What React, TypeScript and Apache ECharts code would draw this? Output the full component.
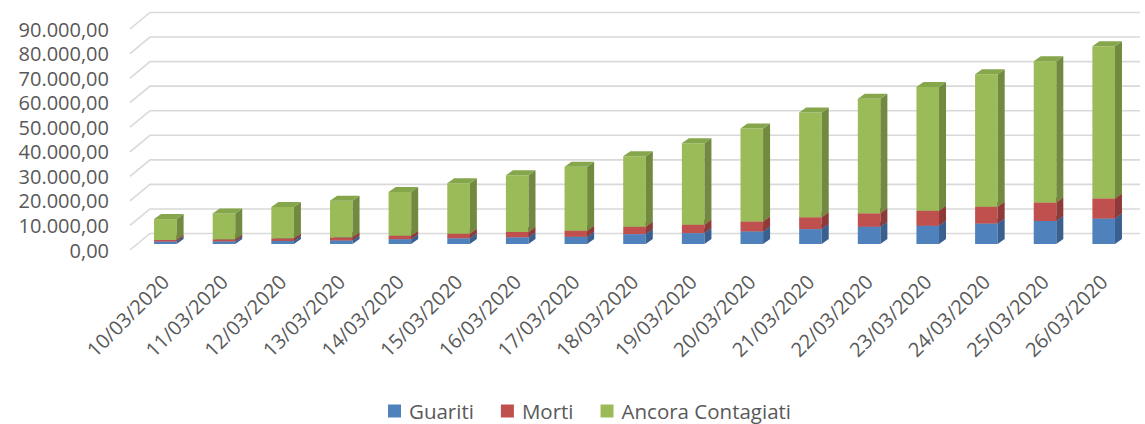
import React, { useEffect, useRef } from "react";
import * as echarts from "echarts";

const categories = [
  "10/03/2020", "11/03/2020", "12/03/2020", "13/03/2020", "14/03/2020", "15/03/2020",
  "16/03/2020", "17/03/2020", "18/03/2020", "19/03/2020", "20/03/2020", "21/03/2020",
  "22/03/2020", "23/03/2020", "24/03/2020", "25/03/2020", "26/03/2020",
];
const guariti = [1004, 1045, 1258, 1439, 1966, 2335, 2749, 2941, 4025, 4440, 5129, 6072, 7024, 7432, 8326, 9362, 10361];
const morti = [631, 827, 1016, 1266, 1441, 1809, 2158, 2503, 2978, 3405, 4032, 4825, 5476, 6077, 6820, 7503, 8165];
const contagiati = [8514, 10590, 12839, 14955, 17750, 20603, 23073, 26062, 28710, 33190, 37860, 42681, 46638, 50418, 54030, 57521, 62013];
const yTicks = [0, 10000, 20000, 30000, 40000, 50000, 60000, 70000, 80000, 90000];

const seriesNames = ["Guariti", "Morti", "Ancora Contagiati"];
const frontColors = ["#4F81BD", "#C0504D", "#9BBB59"];
const sideColors = ["#3A6090", "#8E3A38", "#718A40"];
const topColors = ["#4674AA", "#A84643", "#86A64C"];

const fmt = (v: number) => {
  const s = Math.round(v).toString().replace(/\B(?=(\d{3})+(?!\d))/g, ".");
  return s + ",00";
};

export default function App() {
  const ref = useRef<HTMLDivElement>(null);
  useEffect(() => {
    if (!ref.current) return;
    const chart = echarts.init(ref.current, undefined, { renderer: "svg" });
    const stacks = [guariti, morti, contagiati];
    const segData = stacks.map((arr, k) =>
      arr.map((v, i) => {
        let base = 0;
        for (let j = 0; j < k; j++) base += stacks[j][i];
        return [i, base, base + v];
      })
    );
    const DX = 7, DY = -5, LIFT = 6;
    const barSeries = segData.map((data, k) => ({
      type: "custom",
      name: seriesNames[k],
      data,
      encode: { x: 0, y: [1, 2] },
      itemStyle: { color: frontColors[k] },
      z: 3 + k,
      renderItem: (params: any, api: any) => {
        const i = api.value(0);
        const b = api.value(1);
        const t = api.value(2);
        const p0 = api.coord([i, b]);
        const p1 = api.coord([i, t]);
        const bw = api.size([1, 0])[0] * 0.385;
        const x0 = p0[0] - bw / 2;
        const x1 = p0[0] + bw / 2;
        const yb = p0[1] - LIFT;
        const yt = p1[1] - LIFT;
        return {
          type: "group",
          children: [
            { type: "rect", shape: { x: x0, y: yt, width: bw, height: yb - yt }, style: { fill: frontColors[k] } },
            {
              type: "polygon",
              shape: { points: [[x1, yb], [x1 + DX, yb + DY], [x1 + DX, yt + DY], [x1, yt]] },
              style: { fill: sideColors[k] },
            },
            {
              type: "polygon",
              shape: { points: [[x0, yt], [x0 + DX, yt + DY], [x1 + DX, yt + DY], [x1, yt]] },
              style: { fill: topColors[k] },
            },
          ],
        };
      },
    }));

    const gridSeries = {
      type: "custom",
      name: "grid",
      data: yTicks.map((v) => [0, v]),
      encode: { x: 0, y: 1 },
      z: 1,
      silent: true,
      renderItem: (params: any, api: any) => {
        const cs = params.coordSys;
        const y = api.coord([0, api.value(1)])[1];
        return {
          type: "polyline",
          shape: { points: [[cs.x - 6, y], [cs.x + 14, y - 16.5], [cs.x + cs.width + 7, y - 16.5]] },
          style: { stroke: "#D9D9D9", lineWidth: 1.6, fill: "none" },
        };
      },
    };

    chart.setOption({
      animation: false,
      textStyle: { fontFamily: "Open Sans" },
      grid: { left: 136, top: 29, width: 997, height: 221, containLabel: false },
      legend: {
        data: seriesNames,
        left: 388,
        top: 400,
        icon: "rect",
        itemWidth: 13,
        itemHeight: 13,
        itemGap: 27,
        padding: 0,
        textStyle: { fontSize: 20.5, lineHeight: 22, color: "#595959", fontFamily: "Open Sans", padding: [0, 0, 0, 3] },
      },
      xAxis: {
        type: "category",
        data: categories,
        axisLine: { show: false },
        axisTick: { show: false },
        axisLabel: { rotate: 45, fontSize: 20, color: "#595959", margin: 28, interval: 0, fontFamily: "Open Sans" },
      },
      yAxis: {
        type: "value",
        min: 0,
        max: 90000,
        interval: 10000,
        axisLine: { show: false },
        axisTick: { show: false },
        splitLine: { show: false },
        axisLabel: { fontSize: 20, lineHeight: 20, color: "#595959", margin: 27, formatter: fmt, fontFamily: "Open Sans" },
      },
      series: [gridSeries, ...barSeries],
    });
    return () => chart.dispose();
  }, []);
  return (
    <div
      ref={ref}
      style={{ position: "fixed", left: 0, top: 0, width: 1145, height: 424, background: "#fff" }}
    />
  );
}
